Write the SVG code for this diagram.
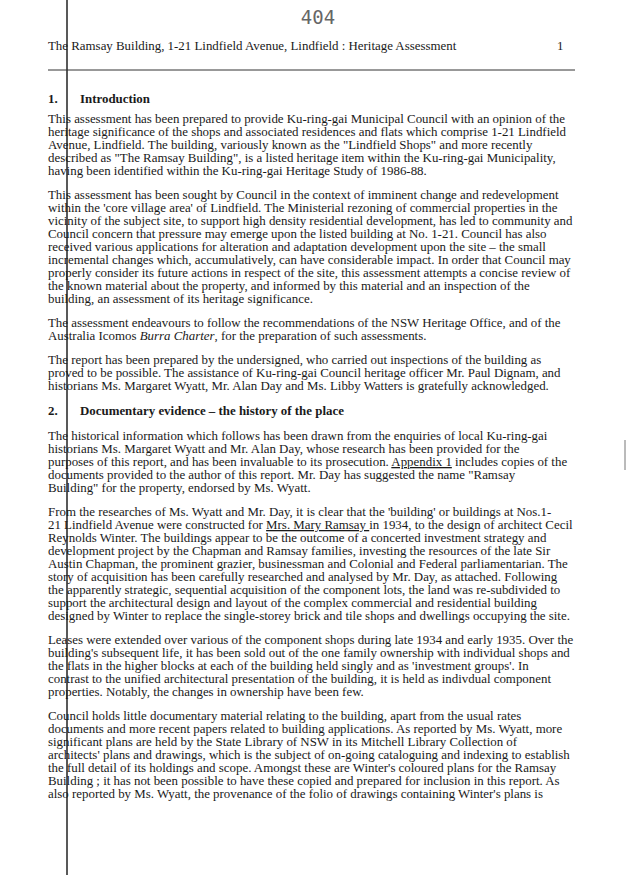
<svg xmlns="http://www.w3.org/2000/svg" width="637" height="875" viewBox="0 0 637 875">
<style>
text{font-family:"Liberation Serif","Times New Roman",serif;font-size:12.9px;fill:#1a1a1a}
.h{font-weight:bold}
</style>
<rect width="637" height="875" fill="#fff"/>
<line x1="67" y1="0" x2="67" y2="875" stroke="#222" stroke-width="1.5"/>
<line x1="48" y1="70" x2="575" y2="70" stroke="#333" stroke-width="1"/>
<line x1="625" y1="440" x2="625" y2="470" stroke="#777" stroke-width="1"/>
<text x="318" y="24" text-anchor="middle" style="font-size:19px;fill:#666;font-family:'DejaVu Sans Mono',monospace">404</text>
<text x="48" y="50">The Ramsay Building, 1-21 Lindfield Avenue, Lindfield : Heritage Assessment</text>
<text x="557" y="50">1</text>
<g id="sec1">
<text x="48" y="103" class="h">1.</text><text x="80" y="103" class="h">Introduction</text>
<text x="48" y="123">This assessment has been prepared to provide Ku-ring-gai Municipal Council with an opinion of the</text>
<text x="48" y="136">heritage significance of the shops and associated residences and flats which comprise 1-21 Lindfield</text>
<text x="48" y="149">Avenue, Lindfield. The building, variously known as the "Lindfield Shops" and more recently</text>
<text x="48" y="162">described as "The Ramsay Building", is a listed heritage item within the Ku-ring-gai Municipality,</text>
<text x="48" y="175">having been identified within the Ku-ring-gai Heritage Study of 1986-88.</text>
<text x="48" y="199">This assessment has been sought by Council in the context of imminent change and redevelopment</text>
<text x="48" y="212">within the 'core village area' of Lindfield. The Ministerial rezoning of commercial properties in the</text>
<text x="48" y="225">vicinity of the subject site, to support high density residential development, has led to community and</text>
<text x="48" y="238">Council concern that pressure may emerge upon the listed building at No. 1-21. Council has also</text>
<text x="48" y="251">received various applications for alteration and adaptation development upon the site – the small</text>
<text x="48" y="264">incremental changes which, accumulatively, can have considerable impact. In order that Council may</text>
<text x="48" y="277">properly consider its future actions in respect of the site, this assessment attempts a concise review of</text>
<text x="48" y="290">the known material about the property, and informed by this material and an inspection of the</text>
<text x="48" y="303">building, an assessment of its heritage significance.</text>
<text x="48" y="327">The assessment endeavours to follow the recommendations of the NSW Heritage Office, and of the</text>
<text x="48" y="340">Australia Icomos <tspan font-style="italic">Burra Charter</tspan>, for the preparation of such assessments.</text>
<text x="48" y="364">The report has been prepared by the undersigned, who carried out inspections of the building as</text>
<text x="48" y="377">proved to be possible. The assistance of Ku-ring-gai Council heritage officer Mr. Paul Dignam, and</text>
<text x="48" y="390">historians Ms. Margaret Wyatt, Mr. Alan Day and Ms. Libby Watters is gratefully acknowledged.</text>
</g>
<g id="sec2">
<text x="48" y="415" class="h">2.</text><text x="80" y="415" class="h">Documentary evidence – the history of the place</text>
<text x="48" y="440">The historical information which follows has been drawn from the enquiries of local Ku-ring-gai</text>
<text x="48" y="453">historians Ms. Margaret Wyatt and Mr. Alan Day, whose research has been provided for the</text>
<text x="48" y="466">purposes of this report, and has been invaluable to its prosecution. <tspan text-decoration="underline">Appendix 1</tspan> includes copies of the</text>
<text x="48" y="479">documents provided to the author of this report. Mr. Day has suggested the name "Ramsay</text>
<text x="48" y="492">Building" for the property, endorsed by Ms. Wyatt.</text>
<text x="48" y="516">From the researches of Ms. Wyatt and Mr. Day, it is clear that the 'building' or buildings at Nos.1-</text>
<text x="48" y="529">21 Lindfield Avenue were constructed for <tspan text-decoration="underline">Mrs. Mary Ramsay </tspan>in 1934, to the design of architect Cecil</text>
<text x="48" y="542">Reynolds Winter. The buildings appear to be the outcome of a concerted investment strategy and</text>
<text x="48" y="555">development project by the Chapman and Ramsay families, investing the resources of the late Sir</text>
<text x="48" y="568">Austin Chapman, the prominent grazier, businessman and Colonial and Federal parliamentarian. The</text>
<text x="48" y="581">story of acquisition has been carefully researched and analysed by Mr. Day, as attached. Following</text>
<text x="48" y="594">the apparently strategic, sequential acquisition of the component lots, the land was re-subdivided to</text>
<text x="48" y="607">support the architectural design and layout of the complex commercial and residential building</text>
<text x="48" y="620">designed by Winter to replace the single-storey brick and tile shops and dwellings occupying the site.</text>
<text x="48" y="644">Leases were extended over various of the component shops during late 1934 and early 1935. Over the</text>
<text x="48" y="657">building's subsequent life, it has been sold out of the one family ownership with individual shops and</text>
<text x="48" y="670">the flats in the higher blocks at each of the building held singly and as 'investment groups'. In</text>
<text x="48" y="683">contrast to the unified architectural presentation of the building, it is held as indivdual component</text>
<text x="48" y="696">properties. Notably, the changes in ownership have been few.</text>
<text x="48" y="720">Council holds little documentary material relating to the building, apart from the usual rates</text>
<text x="48" y="733">documents and more recent papers related to building applications. As reported by Ms. Wyatt, more</text>
<text x="48" y="746">significant plans are held by the State Library of NSW in its Mitchell Library Collection of</text>
<text x="48" y="759">architects' plans and drawings, which is the subject of on-going cataloguing and indexing to establish</text>
<text x="48" y="772">the full detail of its holdings and scope. Amongst these are Winter's coloured plans for the Ramsay</text>
<text x="48" y="785">Building ; it has not been possible to have these copied and prepared for inclusion in this report. As</text>
<text x="48" y="798">also reported by Ms. Wyatt, the provenance of the folio of drawings containing Winter's plans is</text>
</g>
</svg>
